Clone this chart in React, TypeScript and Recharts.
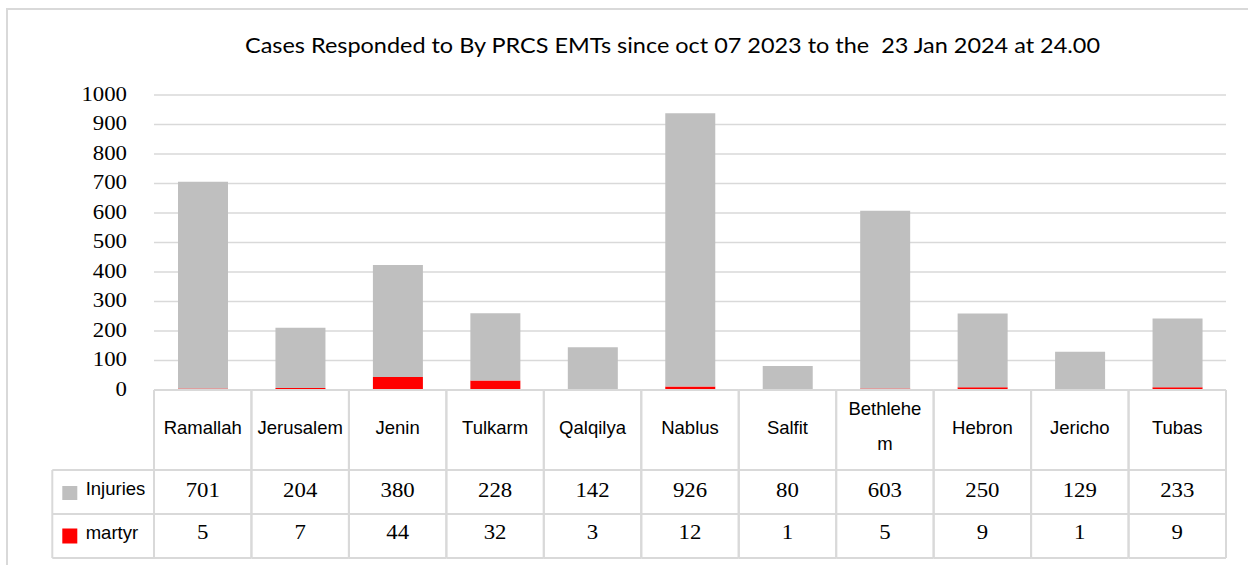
import React from 'react';
import { BarChart, Bar, XAxis, YAxis, CartesianGrid } from 'recharts';

const categories = ['Ramallah', 'Jerusalem', 'Jenin', 'Tulkarm', 'Qalqilya', 'Nablus', 'Salfit', 'Bethlehem', 'Hebron', 'Jericho', 'Tubas'];
const categoryLabels = ['Ramallah', 'Jerusalem', 'Jenin', 'Tulkarm', 'Qalqilya', 'Nablus', 'Salfit', 'Bethlehe\nm', 'Hebron', 'Jericho', 'Tubas'];
const injuries = [701, 204, 380, 228, 142, 926, 80, 603, 250, 129, 233];
const martyr = [5, 7, 44, 32, 3, 12, 1, 5, 9, 1, 9];
const yTicks = [0, 100, 200, 300, 400, 500, 600, 700, 800, 900, 1000];
const injuriesName = 'Injuries';
const martyrName = 'martyr';
const title = 'Cases Responded to By PRCS EMTs since oct 07 2023 to the  23 Jan 2024 at 24.00';

const data = categories.map((name, i) => ({ name, injuries: injuries[i], martyr: martyr[i] }));

const W = 1248;
const H = 565;
const PLOT_LEFT = 154;
const PLOT_RIGHT = 1226;
const PLOT_TOP = 95;
const PLOT_BOTTOM = 390;
const Y_AXIS_W = 100;
const X_AXIS_H = H - PLOT_BOTTOM;
const COL_W = (PLOT_RIGHT - PLOT_LEFT) / categories.length;
const LEGEND_COL_W = 101.7;
const LINE = '#d9d9d9';
const GRAY = '#bfbfbf';
const RED = '#ff0000';
const SANS = '"Liberation Sans", Arial, sans-serif';
const SERIF = '"Liberation Serif", "Times New Roman", serif';

function YTick(props: any) {
  const { x, y, payload } = props;
  return (
    <text
      transform={`translate(${x - 27},${y + 5.5}) scale(1.14,1)`}
      textAnchor="end"
      fontFamily={SERIF}
      fontSize={20}
      fill="#000"
    >
      {payload.value}
    </text>
  );
}

function TableTick(props: any) {
  const { x, y, index } = props;
  const i = index;
  const l = x - COL_W / 2;
  const r = x + COL_W / 2;
  const r0 = y;
  const r1 = y + 80;
  const r2 = y + 124;
  const r3 = y + 168;
  const ln = { stroke: LINE, strokeWidth: 2 };
  const lines = categoryLabels[i].split('\n');
  const numStyle = { fontFamily: SERIF, fontSize: 20, fill: '#000' };
  const lx = l - LEGEND_COL_W;
  return (
    <g>
      <line x1={l} y1={r0} x2={r} y2={r0} {...ln} />
      <line x1={l} y1={r1} x2={r} y2={r1} {...ln} />
      <line x1={l} y1={r2} x2={r} y2={r2} {...ln} />
      <line x1={l} y1={r3} x2={r} y2={r3} {...ln} />
      <line x1={l} y1={r0} x2={l} y2={r3} {...ln} />
      <line x1={r} y1={r0} x2={r} y2={r3} {...ln} />
      {lines.length === 1 ? (
        <text x={x} y={y + 44.3} textAnchor="middle" fontFamily={SANS} fontSize={18.5} fill="#000">
          {lines[0]}
        </text>
      ) : (
        lines.map((t: string, k: number) => (
          <text key={k} x={x} y={y + 25 + k * 35} textAnchor="middle" fontFamily={SANS} fontSize={18.5} fill="#000">
            {t}
          </text>
        ))
      )}
      <text transform={`translate(${x},${y + 106.7}) scale(1.14,1)`} textAnchor="middle" {...numStyle}>
        {injuries[i]}
      </text>
      <text transform={`translate(${x},${y + 149.3}) scale(1.14,1)`} textAnchor="middle" {...numStyle}>
        {martyr[i]}
      </text>
      {i === 0 && (
        <g>
          <line x1={lx} y1={r1} x2={l} y2={r1} {...ln} />
          <line x1={lx} y1={r2} x2={l} y2={r2} {...ln} />
          <line x1={lx} y1={r3} x2={l} y2={r3} {...ln} />
          <line x1={lx} y1={r1} x2={lx} y2={r3} {...ln} />
          <rect x={lx + 10} y={y + 96} width={15} height={14} fill={GRAY} />
          <text x={lx + 33.4} y={y + 105} fontFamily={SANS} fontSize={18.5} fill="#000">
            {injuriesName}
          </text>
          <rect x={lx + 10} y={y + 138.5} width={15} height={15} fill={RED} />
          <text x={lx + 33.4} y={y + 149} fontFamily={SANS} fontSize={18.5} fill="#000">
            {martyrName}
          </text>
        </g>
      )}
    </g>
  );
}

export default function App() {
  return (
    <div style={{ position: 'absolute', left: 0, top: 0, width: W, height: H, background: '#fff', overflow: 'hidden' }}>
      <svg width={W} height={H} style={{ position: 'absolute', left: 0, top: 0 }}>
        <rect x={7} y={9} width={1400} height={700} fill="none" stroke={LINE} strokeWidth={2} />
        <text
          x={672.5}
          y={53}
          textAnchor="middle"
          fontFamily='Lato, "Open Sans", sans-serif'
          fontSize={22}
          fill="#000"
          textLength={855}
          lengthAdjust="spacingAndGlyphs"
          style={{ whiteSpace: 'pre' }}
        >
          {title}
        </text>
      </svg>
      <div style={{ position: 'absolute', left: 0, top: 0 }}>
        <BarChart
          width={W}
          height={H}
          data={data}
          margin={{ top: PLOT_TOP, right: W - PLOT_RIGHT, bottom: 0, left: PLOT_LEFT - Y_AXIS_W }}
          barSize={50}
        >
          <CartesianGrid vertical={false} stroke={LINE} strokeWidth={1.5} />
          <YAxis
            type="number"
            domain={[0, 1000]}
            ticks={yTicks}
            interval={0}
            width={Y_AXIS_W}
            axisLine={false}
            tickLine={false}
            tickSize={0}
            tickMargin={0}
            tick={(p: any) => <YTick {...p} />}
          />
          <XAxis
            dataKey="name"
            interval={0}
            height={X_AXIS_H}
            axisLine={false}
            tickLine={false}
            tickSize={0}
            tickMargin={0}
            tick={(p: any) => <TableTick {...p} />}
          />
          <Bar dataKey="martyr" name={martyrName} stackId="a" fill={RED} isAnimationActive={false} />
          <Bar dataKey="injuries" name={injuriesName} stackId="a" fill={GRAY} isAnimationActive={false} />
        </BarChart>
      </div>
    </div>
  );
}
